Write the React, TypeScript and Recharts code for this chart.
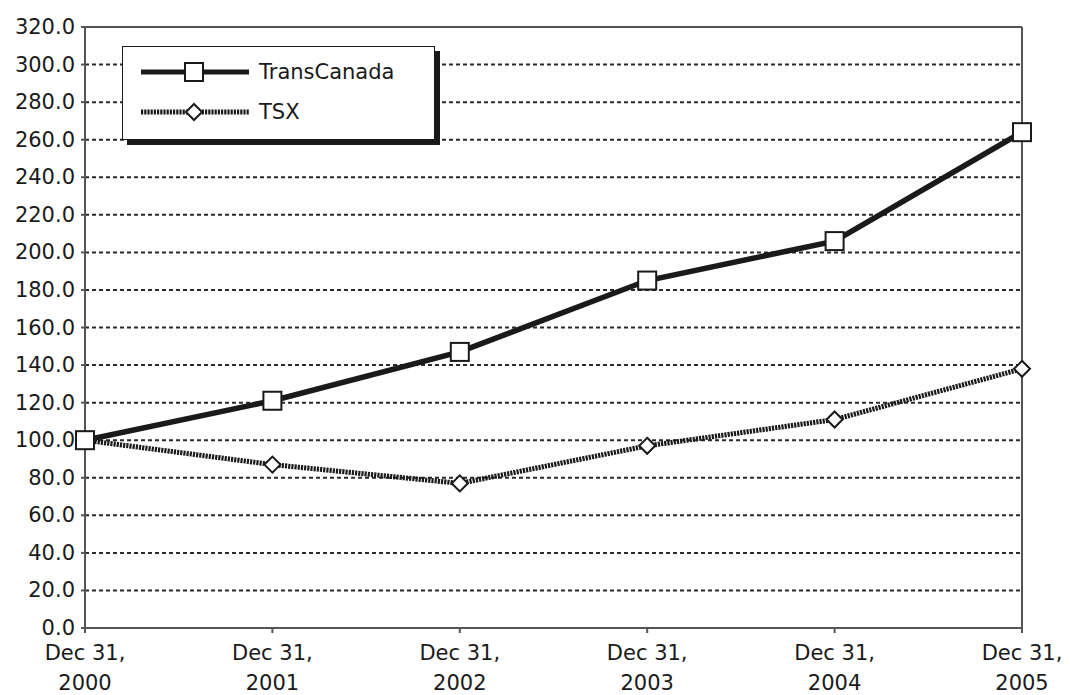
import React from "react";
import { LineChart, Line, XAxis, YAxis, CartesianGrid, ReferenceLine, Legend } from "recharts";

const categories = ["Dec 31, 2000", "Dec 31, 2001", "Dec 31, 2002", "Dec 31, 2003", "Dec 31, 2004", "Dec 31, 2005"];
const transCanada = [100, 121, 147, 185, 206, 264];
const tsx = [100, 87, 77, 97, 111, 138];
const yTicks = [0, 20, 40, 60, 80, 100, 120, 140, 160, 180, 200, 220, 240, 260, 280, 300, 320];

const data = categories.map((date, i) => ({
  date,
  TransCanada: transCanada[i],
  TSX: tsx[i],
}));

const FONT = "'DejaVu Sans', sans-serif";
const INK = "#1a1a1a";
const TSX_DASH = "2.2 1";

function SquareDot(props: any) {
  const { cx, cy, index } = props;
  if (cx == null || cy == null) return null;
  return <rect key={`sq-${index}`} x={cx - 9} y={cy - 9} width={18} height={18} fill="#fff" stroke={INK} strokeWidth={2} />;
}

function DiamondDot(props: any) {
  const { cx, cy, index } = props;
  if (cx == null || cy == null) return null;
  const r = 8;
  return (
    <polygon
      key={`dm-${index}`}
      points={`${cx},${cy - r} ${cx + r},${cy} ${cx},${cy + r} ${cx - r},${cy}`}
      fill="#fff"
      stroke={INK}
      strokeWidth={2}
    />
  );
}

function XTick({ x, y, payload }: any) {
  const label: string = payload.value;
  const cut = label.lastIndexOf(" ");
  return (
    <text x={x} y={y} textAnchor="middle" fontFamily={FONT} fontSize={21} fill={INK}>
      <tspan x={x} dy={25}>{label.slice(0, cut)}</tspan>
      <tspan x={x} dy={30}>{label.slice(cut + 1)}</tspan>
    </text>
  );
}

function YTick({ x, y, payload }: any) {
  return (
    <text x={x - 4} y={y} dy={7} textAnchor="end" fontFamily={FONT} fontSize={21} fill={INK}>
      {Number(payload.value).toFixed(1)}
    </text>
  );
}

function LegendBox() {
  const rows = [
    { name: "TransCanada", dash: undefined as string | undefined, dot: "square" },
    { name: "TSX", dash: TSX_DASH, dot: "diamond" },
  ];
  return (
    <div
      style={{
        width: 313,
        height: 94,
        background: "#fff",
        border: `1.5px solid ${INK}`,
        boxShadow: `5px 5px 0 ${INK}`,
        fontFamily: FONT,
        fontSize: 21,
        color: INK,
        boxSizing: "border-box",
        paddingTop: 5,
      }}
    >
      {rows.map((r) => (
        <div key={r.name} style={{ display: "flex", alignItems: "center", height: 40 }}>
          <svg width={130} height={26} style={{ marginLeft: 16 }}>
            <line x1={2} y1={13} x2={110} y2={13} stroke={INK} strokeWidth={5} strokeDasharray={r.dash} />
            {r.dot === "square" ? (
              <rect x={46} y={4} width={18} height={18} fill="#fff" stroke={INK} strokeWidth={2} />
            ) : (
              <polygon points="55,5 63,13 55,21 47,13" fill="#fff" stroke={INK} strokeWidth={2} />
            )}
          </svg>
          <span style={{ marginLeft: -10 }}>{r.name}</span>
        </div>
      ))}
    </div>
  );
}

export default function App() {
  return (
    <div style={{ width: 1071, height: 695, background: "#fff" }}>
      <style>{`body{margin:0;}`}</style>
      <LineChart width={1071} height={695} data={data} margin={{ top: 27, right: 49, bottom: 0, left: 0 }}>
        <CartesianGrid vertical={false} stroke="#2a2a2a" strokeWidth={2} strokeDasharray="4 3" />
        <XAxis
          dataKey="date"
          height={67}
          axisLine={{ stroke: "#555", strokeWidth: 2 }}
          tickLine={{ stroke: "#555", strokeWidth: 2 }}
          tickSize={5}
          tick={<XTick />}
          interval={0}
        />
        <YAxis
          width={85}
          domain={[0, 320]}
          ticks={yTicks}
          interval={0}
          axisLine={{ stroke: "#555", strokeWidth: 2 }}
          tickLine={{ stroke: "#555", strokeWidth: 2 }}
          tickSize={4}
          tick={<YTick />}
        />
        <ReferenceLine y={320} stroke="#555" strokeWidth={2} />
        <ReferenceLine x={categories[categories.length - 1]} stroke="#555" strokeWidth={2} />
        <Legend
          layout="vertical"
          align="center"
          verticalAlign="middle"
          wrapperStyle={{ top: 46, left: 122, width: 320 }}
          content={() => <LegendBox />}
        />
        <Line
          type="linear"
          dataKey="TSX"
          stroke={INK}
          strokeWidth={5}
          strokeDasharray={TSX_DASH}
          dot={<DiamondDot />}
          isAnimationActive={false}
        />
        <Line
          type="linear"
          dataKey="TransCanada"
          stroke={INK}
          strokeWidth={5.5}
          dot={<SquareDot />}
          isAnimationActive={false}
        />
      </LineChart>
    </div>
  );
}
